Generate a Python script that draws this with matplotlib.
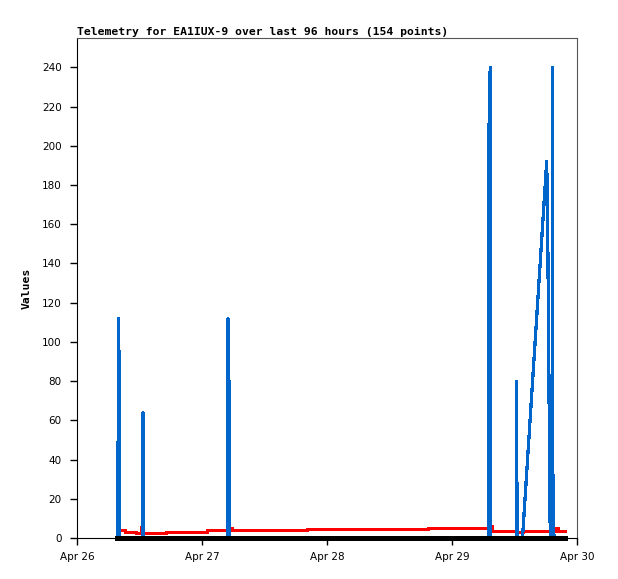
import matplotlib
matplotlib.use("Agg")
import matplotlib.pyplot as plt
import matplotlib.dates as mdates
import pandas as pd

YEAR = "2024-"

# blue channel (spiky values)
blue_times = ["04-26 07:47", "04-26 08:02", "04-26 08:06", "04-26 12:35", "04-26 12:40",
              "04-26 12:44", "04-27 04:55", "04-27 04:59", "04-27 05:10", "04-27 05:14",
              "04-29 07:00", "04-29 07:06", "04-29 07:20", "04-29 07:24", "04-29 12:20",
              "04-29 12:25", "04-29 12:29", "04-29 13:32", "04-29 18:11", "04-29 18:22",
              "04-29 18:34", "04-29 18:45", "04-29 18:52", "04-29 19:12", "04-29 19:16",
              "04-29 19:20", "04-29 19:31", "04-29 19:34", "04-29 21:41"]
blue_vals = [0, 112, 0, 0, 64,
             0, 0, 112, 80, 0,
             0, 208, 240, 0, 0,
             80, 0, 0, 192, 160,
             96, 32, 0, 0, 240,
             0, 32, 0, 0]

# red channel (low values, step-like)
red_times = ["04-26 07:40", "04-26 08:04", "04-26 09:13", "04-26 11:20", "04-26 12:17",
             "04-26 12:46", "04-26 17:05", "04-27 00:58", "04-27 05:22", "04-27 05:45",
             "04-27 20:05", "04-28 19:23", "04-29 07:18", "04-29 07:41", "04-29 12:29",
             "04-29 13:38", "04-29 19:58", "04-29 20:21", "04-29 21:41"]
red_vals = [5.3, 4.2, 3.3, 2.6, 5.8,
            2.7, 3.3, 3.9, 4.9, 3.9,
            4.4, 4.9, 6.3, 3.7, 2.9,
            3.7, 5.0, 3.7, 3.7]

# black channel (always zero)
black_times = ["04-26 07:40", "04-29 21:41"]
black_vals = [0, 0]

y_ticks = list(range(0, 241, 20))


def to_dates(times):
    return pd.to_datetime([YEAR + t for t in times])


fig = plt.figure(figsize=(6.18, 5.79), dpi=100)
ax = fig.add_axes([77 / 618, 41 / 579, 500 / 618, 500 / 579])

ax.plot(to_dates(red_times), red_vals, color="#ff0000", lw=1.9,
        drawstyle="steps-post", antialiased=False, zorder=2)
ax.plot(to_dates(blue_times), blue_vals, color="#0066cc", lw=1.6,
        antialiased=False, zorder=3)
ax.plot(to_dates(black_times), black_vals, color="black", lw=2.2,
        antialiased=False, zorder=4, clip_on=False)

ax.set_xlim(pd.Timestamp(YEAR + "04-26 00:00"), pd.Timestamp(YEAR + "04-30 00:00"))
ax.set_ylim(0, 255)
ax.set_yticks(y_ticks)
ax.xaxis.set_major_locator(mdates.DayLocator())
ax.xaxis.set_major_formatter(mdates.DateFormatter("%b %d"))

ax.tick_params(axis="both", direction="out", length=5, width=1, labelsize=7.5,
               color="black", labelcolor="black")
ax.tick_params(axis="y", pad=6)
ax.tick_params(axis="x", pad=5)

for side in ["top", "right"]:
    ax.spines[side].set_color("#555555")
for side in ["left", "bottom"]:
    ax.spines[side].set_color("black")

ax.set_title("Telemetry for EA1IUX-9 over last 96 hours (154 points)", loc="left",
             fontsize=8.2, fontweight="bold", family="DejaVu Sans Mono", pad=2)
ax.set_ylabel("Values", fontsize=8.2, fontweight="bold", family="DejaVu Sans Mono")
ax.yaxis.set_label_coords(-0.09, 0.5)

fig.savefig("out.png", dpi=100)
